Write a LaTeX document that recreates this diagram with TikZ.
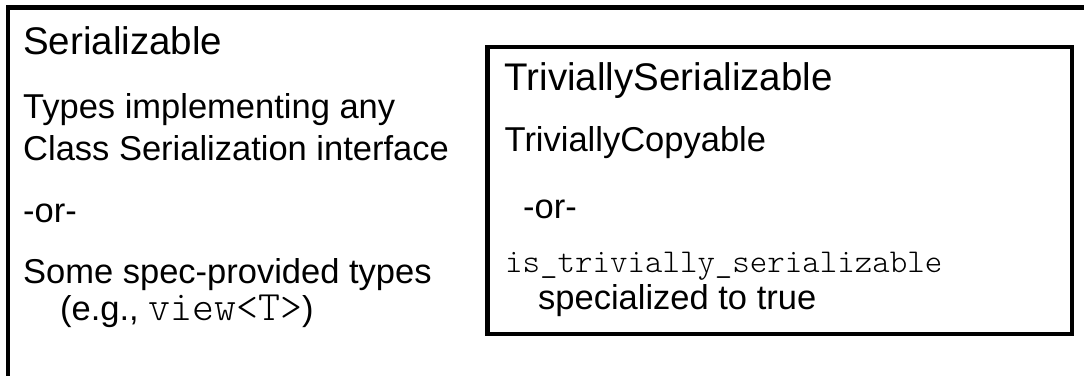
\documentclass[tikz,border=0pt]{standalone}
\usepackage{fontspec}
\setmainfont{Liberation Sans}
\newfontfamily\codefont{lmmonolt10-regular.otf}
\begin{document}
\begin{tikzpicture}[x=1pt,y=-1pt,
  frame/.style={line width=4.6pt, draw=black},
  txt/.style={anchor=base west, inner sep=0pt, font=\fontsize{34.5}{40}\selectfont},
  ttl/.style={anchor=base west, inner sep=0pt, font=\fontsize{38.5}{44}\selectfont},
  code/.style={anchor=base west, inner sep=0pt, font=\fontsize{33.3}{38}\selectfont\codefont}]
\useasboundingbox (0,0) rectangle (1084,375);
% outer box (runs on past the right and bottom edges)
\draw[frame] (8,380) -- (8,7.5) -- (1090,7.5);
% inner box
\draw[frame] (487.5,47) rectangle (1072,334);
% left texts
\node[ttl] (ser) at (23,54.5) {Serializable};
\node[txt] (t1) at (23,118) {Types implementing any};
\node[txt] (t2) at (23,160) {Class Serialization interface};
\node[txt] (or1) at (23,222) {-or-};
\node[txt] (t3) at (23,283) {Some spec-provided types};
\node[txt] (t4) at (60,320) {(e.g., {\fontsize{41.8}{44}\selectfont\codefont view<T>})};
% right texts
\node[ttl] (tser) at (504.5,90) {TriviallySerializable};
\node[txt] (tcop) at (504.5,151) {TriviallyCopyable};
\node[txt] (or2) at (523,218) {-or-};
\node[code] (isser) at (505,272) {is\_trivially\_serializable};
\node[txt] (spec) at (538,309) {specialized to true};
\end{tikzpicture}
\end{document}
